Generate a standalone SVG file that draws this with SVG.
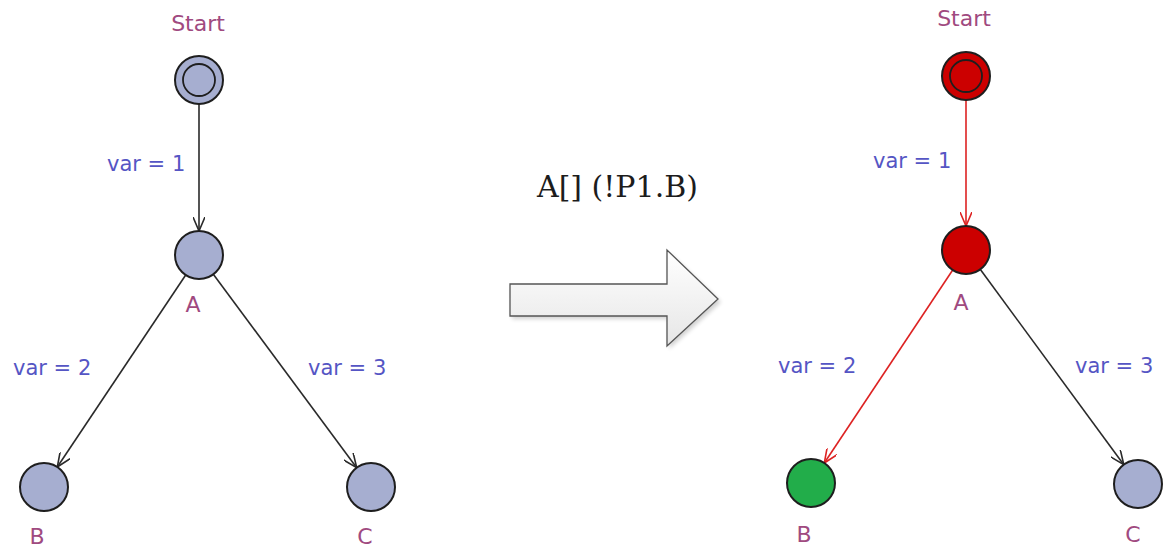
<svg xmlns="http://www.w3.org/2000/svg" width="1170" height="549" viewBox="0 0 1170 549">
  <style>
    .loc { stroke: #1e1e1e; stroke-width: 2; }
    .idle { fill: #a6aed0; }
    .hot { fill: #cc0000; }
    .goal { fill: #22ad4a; }
    .inner { fill: none; stroke: #1e1e1e; stroke-width: 1.8; }
    .name { font-family: "DejaVu Sans", sans-serif; font-size: 22px; fill: #a04a80; text-anchor: middle; }
    .upd { font-family: "DejaVu Sans", sans-serif; font-size: 21px; fill: #5555c4; }
    .edge { fill: none; stroke-width: 1.6; }
    .plain { stroke: #2a2a2a; }
    .trace { stroke: #dd2222; }
    .query { font-family: "DejaVu Serif", serif; font-size: 30px; fill: #1c1c1c; }
  </style>
  <defs>
    <marker id="tip" markerUnits="userSpaceOnUse" viewBox="0 0 14 12" markerWidth="14" markerHeight="12" refX="14" refY="6" orient="auto">
      <path d="M0,0 L14,6 L0,12" fill="none" stroke="#2a2a2a" stroke-width="1.6"/>
    </marker>
    <marker id="tipRed" markerUnits="userSpaceOnUse" viewBox="0 0 14 12" markerWidth="14" markerHeight="12" refX="14" refY="6" orient="auto">
      <path d="M0,0 L14,6 L0,12" fill="none" stroke="#dd2222" stroke-width="1.6"/>
    </marker>
    <linearGradient id="blockFill" x1="0" y1="0" x2="0" y2="1">
      <stop offset="0" stop-color="#ffffff"/>
      <stop offset="1" stop-color="#e6e6e6"/>
    </linearGradient>
    <filter id="soft" x="-10%" y="-10%" width="130%" height="130%">
      <feGaussianBlur stdDeviation="2"/>
    </filter>
  </defs>

  <!-- connectors -->
  <g id="connectors">
    <!-- left automaton -->
    <line class="edge plain" x1="199" y1="104" x2="199" y2="231" marker-end="url(#tip)"/>
    <line class="edge plain" x1="185.7" y1="275" x2="57.3" y2="467" marker-end="url(#tip)"/>
    <line class="edge plain" x1="213.3" y1="274.3" x2="356.7" y2="467.7" marker-end="url(#tip)"/>
    <!-- right automaton, counterexample trace in red -->
    <line class="edge trace" x1="966" y1="100" x2="966" y2="226" marker-end="url(#tipRed)"/>
    <line class="edge trace" x1="952.7" y1="270" x2="824.3" y2="463" marker-end="url(#tipRed)"/>
    <line class="edge plain" x1="980.2" y1="269.3" x2="1123.8" y2="464.7" marker-end="url(#tip)"/>
  </g>

  <!-- edge updates -->
  <g id="updates">
    <text class="upd" x="107" y="171">var = 1</text>
    <text class="upd" x="13" y="375">var = 2</text>
    <text class="upd" x="308" y="375">var = 3</text>
    <text class="upd" x="873" y="168">var = 1</text>
    <text class="upd" x="778" y="373">var = 2</text>
    <text class="upd" x="1075" y="373">var = 3</text>
  </g>

  <!-- left automaton locations -->
  <g id="left-start">
    <circle class="loc idle" cx="199" cy="80" r="24"/>
    <circle class="inner" cx="199" cy="80" r="16"/>
    <text class="name" x="198" y="31">Start</text>
  </g>
  <g id="left-A">
    <circle class="loc idle" cx="199" cy="255" r="24"/>
    <text class="name" x="193" y="312">A</text>
  </g>
  <g id="left-B">
    <circle class="loc idle" cx="44" cy="487" r="24"/>
    <text class="name" x="37" y="544">B</text>
  </g>
  <g id="left-C">
    <circle class="loc idle" cx="371" cy="487" r="24"/>
    <text class="name" x="365" y="544">C</text>
  </g>

  <!-- query and transformation arrow -->
  <g id="query">
    <text class="query" x="537" y="197">A[] (!P1.B)</text>
  </g>
  <g id="transform-arrow">
    <polygon points="512,287 669,287 669,253 721,302 669,349 669,319 512,319" fill="#000" opacity="0.18" filter="url(#soft)"/>
    <polygon points="510,284 667,284 667,250 718,299 667,346 667,316 510,316" fill="url(#blockFill)" stroke="#555" stroke-width="1.3"/>
  </g>

  <!-- right automaton locations -->
  <g id="right-start">
    <circle class="loc hot" cx="966" cy="76" r="24"/>
    <circle class="inner" cx="966" cy="76" r="16"/>
    <text class="name" x="964" y="26">Start</text>
  </g>
  <g id="right-A">
    <circle class="loc hot" cx="966" cy="250" r="24"/>
    <text class="name" x="961" y="310">A</text>
  </g>
  <g id="right-B">
    <circle class="loc goal" cx="811" cy="483" r="24"/>
    <text class="name" x="804" y="542">B</text>
  </g>
  <g id="right-C">
    <circle class="loc idle" cx="1138" cy="484" r="24"/>
    <text class="name" x="1133" y="542">C</text>
  </g>
</svg>
